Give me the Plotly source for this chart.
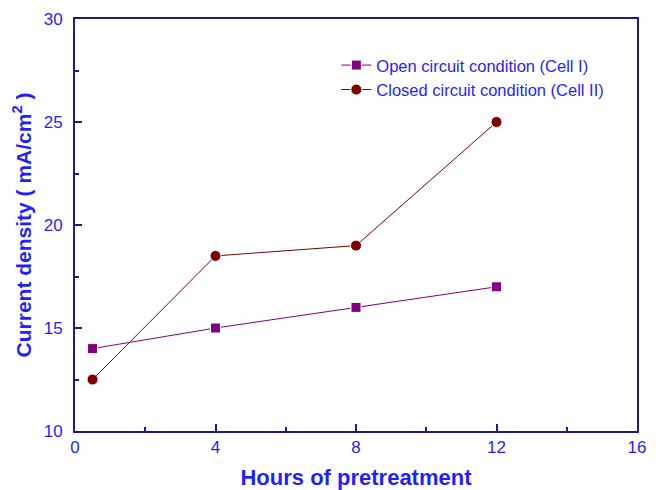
import plotly.graph_objects as go

hours = [0.5, 4, 8, 12]
open_circuit = [14, 15, 16, 17]
closed_circuit = [12.5, 18.5, 19, 25]
x_ticks = [0, 4, 8, 12, 16]
y_ticks = [10, 15, 20, 25, 30]

blue = "#1f1fff"
navy = "#1c1c8a"

fig = go.Figure()
fig.add_trace(go.Scatter(
    x=hours, y=open_circuit, mode="lines+markers",
    name="Open circuit condition (Cell I)",
    line=dict(color="#800080", width=1),
    marker=dict(symbol="square", size=10, color="#800080", line=dict(color="white", width=1)),
))
fig.add_trace(go.Scatter(
    x=hours, y=closed_circuit, mode="lines+markers",
    name="Closed circuit condition (Cell II)",
    line=dict(color="#800000", width=1),
    marker=dict(symbol="circle", size=11, color="#800000", line=dict(color="white", width=1)),
))

axis_common = dict(
    showline=True, linecolor=navy, linewidth=2, mirror=True,
    ticks="inside", ticklen=7, tickwidth=1.5, tickcolor=navy,
    showgrid=False, zeroline=False, automargin=False,
    tickfont=dict(family="Liberation Sans, Arial", size=17, color=blue),
)

fig.update_layout(
    width=648, height=482,
    margin=dict(l=67, r=19, t=11, b=59),
    paper_bgcolor="white", plot_bgcolor="white",
    font=dict(family="Liberation Sans, Arial", color=blue),
    xaxis=dict(
        range=[0, 16], tickvals=x_ticks,
        minor=dict(dtick=2, ticks="inside", ticklen=4, tickcolor=navy, tickwidth=1.5),
        title=dict(text="<b>Hours of pretreatment</b>", font=dict(size=22, color=blue), standoff=14),
        **axis_common,
    ),
    yaxis=dict(
        range=[10, 30], tickvals=y_ticks,
        minor=dict(dtick=2.5, ticks="inside", ticklen=4, tickcolor=navy, tickwidth=1.5),
        ticklabelstandoff=7,
        title=dict(text="<b>Current density ( mA/cm<sup>2</sup> )</b>", font=dict(size=21, color=blue), standoff=6),
        **axis_common,
    ),
    legend=dict(
        x=0.465, y=0.93, xanchor="left", yanchor="top",
        bgcolor="rgba(0,0,0,0)", font=dict(size=16.5, color=blue),
        tracegroupgap=0, itemwidth=30,
    ),
)

fig.write_html("out.html")
